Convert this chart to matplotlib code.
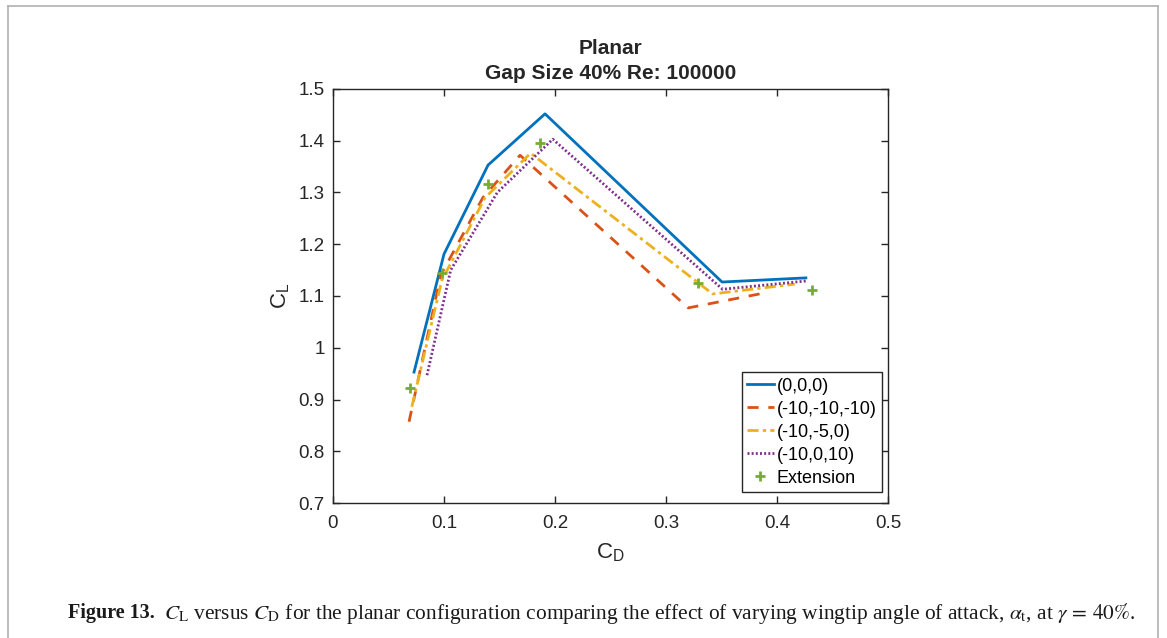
import matplotlib
matplotlib.use("Agg")
import matplotlib.pyplot as plt
from matplotlib.lines import Line2D

# ---- data ----
cd_000 = [0.073, 0.100, 0.1397, 0.191, 0.3505, 0.426]
cl_000 = [0.953, 1.181, 1.353, 1.452, 1.127, 1.135]

cd_m10m10m10 = [0.0685, 0.097, 0.135, 0.1685, 0.320, 0.389]
cl_m10m10m10 = [0.857, 1.140, 1.290, 1.372, 1.077, 1.106]

cd_m10m50 = [0.071, 0.098, 0.137, 0.178, 0.342, 0.416]
cl_m10m50 = [0.886, 1.130, 1.290, 1.376, 1.104, 1.123]

cd_m10010 = [0.0847, 0.106, 0.148, 0.198, 0.351, 0.426]
cl_m10010 = [0.947, 1.150, 1.300, 1.403, 1.113, 1.129]

cd_ext = [0.0694, 0.098, 0.1395, 0.1865, 0.329, 0.4315]
cl_ext = [0.922, 1.144, 1.316, 1.396, 1.125, 1.112]

labels = ["(0,0,0)", "(-10,-10,-10)", "(-10,-5,0)", "(-10,0,10)", "Extension"]
xticks = [0, 0.1, 0.2, 0.3, 0.4, 0.5]
xticklabels = ["0", "0.1", "0.2", "0.3", "0.4", "0.5"]
yticks = [0.7, 0.8, 0.9, 1.0, 1.1, 1.2, 1.3, 1.4, 1.5]
yticklabels = ["0.7", "0.8", "0.9", "1", "1.1", "1.2", "1.3", "1.4", "1.5"]

plt.rcParams['font.family'] = ['Liberation Sans', 'DejaVu Sans']
plt.rcParams['mathtext.fontset'] = 'stix'

W, H = 1167, 638
fig = plt.figure(figsize=(W / 100, H / 100), dpi=100)
ax = fig.add_axes([333 / W, 1 - 503 / H, (888 - 333) / W, (503 - 89) / H])

c1, c2, c3, c4, c5 = "#0072BD", "#D95319", "#EDB120", "#7E2F8E", "#77AC30"
ax.plot(cd_000, cl_000, color=c1, lw=2.0, ls='-', label=labels[0])
ax.plot(cd_m10m10m10, cl_m10m10m10, color=c2, lw=2.0, ls=(0, (4, 3.5)), label=labels[1])
ax.plot(cd_m10m50, cl_m10m50, color=c3, lw=2.0, ls=(0, (4, 1.5, 1.2, 1.5)), label=labels[2])
ax.plot(cd_m10010, cl_m10010, color=c4, lw=2.0, ls=(0, (0.7, 0.8)), label=labels[3])
ax.plot(cd_ext, cl_ext, ls='none', marker='+', ms=7, mew=2, color=c5, label=labels[4])

ax.set_xlim(0, 0.5)
ax.set_ylim(0.7, 1.5)
ax.set_xticks(xticks)
ax.set_xticklabels(xticklabels)
ax.set_yticks(yticks)
ax.set_yticklabels(yticklabels)
ax.tick_params(direction='in', top=True, right=True, length=5, width=1,
               labelsize=13.5, colors='#262626', pad=6)
ax.tick_params(axis='x', pad=9)
for s in ax.spines.values():
    s.set_color('#262626')
    s.set_linewidth(1.0)

ax.set_xlabel(r'C$_\mathregular{D}$', fontsize=16, color='#262626', labelpad=6)
ax.set_ylabel(r'C$_\mathregular{L}$', fontsize=16, color='#262626', labelpad=5)
ax.set_title("Planar\nGap Size 40% Re: 100000", fontsize=15, fontweight='bold',
             color='#262626', pad=7, linespacing=1.45)

leg = ax.legend(loc='lower right', bbox_to_anchor=(882 / W, 1 - 492 / H),
                bbox_transform=fig.transFigure, fontsize=13, frameon=True,
                fancybox=False, edgecolor='#262626', framealpha=1, borderpad=0.3,
                labelspacing=0.33, handlelength=1.5, handletextpad=0.15,
                borderaxespad=0)
leg.get_frame().set_linewidth(1.0)

# page border
bc = '#b0b0b0'
fig.add_artist(Line2D([8 / W, 8 / W], [0, 1 - 6 / H], color=bc, lw=1.2))
fig.add_artist(Line2D([1158 / W, 1158 / W], [0, 1 - 6 / H], color=bc, lw=1.2))
fig.add_artist(Line2D([8 / W, 1158 / W], [1 - 6 / H, 1 - 6 / H], color=bc, lw=1.2))

# caption
fig.canvas.draw()
r = fig.canvas.get_renderer()
t1 = fig.text(68 / W, 1 - 613 / H, "Figure 13.", fontfamily='Liberation Serif',
              fontweight='bold', fontsize=14.5, va='center', color='#1a1a1a')
bb = t1.get_window_extent(renderer=r)
x2 = (bb.x1 + 9) / W
cap = (r"$C_{\mathrm{L}}$ versus $C_{\mathrm{D}}$ for the planar configuration comparing "
       r"the effect of varying wingtip angle of attack, $\alpha_{\mathrm{t}}$, at $\gamma\,=\,40\%$.")
fig.text(x2, 1 - 613 / H, cap, fontfamily='Liberation Serif', fontsize=15.4,
         va='center', color='#1a1a1a')

fig.savefig("out.png", dpi=100)
